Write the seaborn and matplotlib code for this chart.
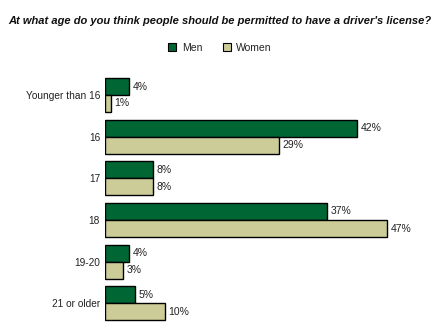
import matplotlib
matplotlib.use("Agg")
import matplotlib.pyplot as plt
import seaborn as sns
import pandas as pd
from matplotlib.patches import Patch

categories = ["Younger than 16", "16", "17", "18", "19-20", "21 or older"]
men = [4, 42, 8, 37, 4, 5]
women = [1, 29, 8, 47, 3, 10]
series = ["Men", "Women"]
colors = {"Men": "#006633", "Women": "#CCCC99"}
title = "At what age do you think people should be permitted to have a driver's license?"

df = pd.DataFrame({
    "Age": categories * 2,
    "Pct": men + women,
    "Group": ["Men"] * len(categories) + ["Women"] * len(categories),
})

sns.set_style("white")
plt.rcParams["font.family"] = ["Liberation Sans", "DejaVu Sans"]

fig = plt.figure(figsize=(4.4, 3.25), dpi=100)
ax = fig.add_axes([104.5 / 440, 0, 1 - 104.5 / 440, 265 / 325])

sns.barplot(data=df, y="Age", x="Pct", hue="Group", order=categories,
            hue_order=series, palette=colors, width=0.816, dodge=True,
            saturation=1, edgecolor="black", linewidth=1.0, legend=False,
            ax=ax, orient="h", gap=0)

ax.set_xlim(0, (440 - 104.5) / 6.0)
ax.set_ylim(5.52, -0.84)
for s in ax.spines.values():
    s.set_visible(False)
ax.set_xticks([])
ax.set_xlabel("")
ax.set_ylabel("")
ax.tick_params(axis="y", length=0, pad=3.2, labelsize=7.3, labelcolor="#222222")

for cont in ax.containers:
    ax.bar_label(cont, labels=[f"{v:.0f}%" for v in cont.datavalues],
                 padding=3, fontsize=7.5, color="#222222")

fig.text(0.5, 1 - 21 / 325, title, ha="center", va="center",
         fontsize=8.0, fontweight="bold", fontstyle="italic", color="#111111")

handles = [Patch(facecolor=colors[s], edgecolor="black", linewidth=0.8, label=s)
           for s in series]
fig.legend(handles=handles, loc="center", bbox_to_anchor=(0.5, 1 - 48 / 325),
           ncol=2, frameon=False, fontsize=7.5, handlelength=0.8,
           handleheight=0.8, handletextpad=0.5, columnspacing=2.0,
           labelcolor="#222222")

fig.savefig("out.png", dpi=100)
